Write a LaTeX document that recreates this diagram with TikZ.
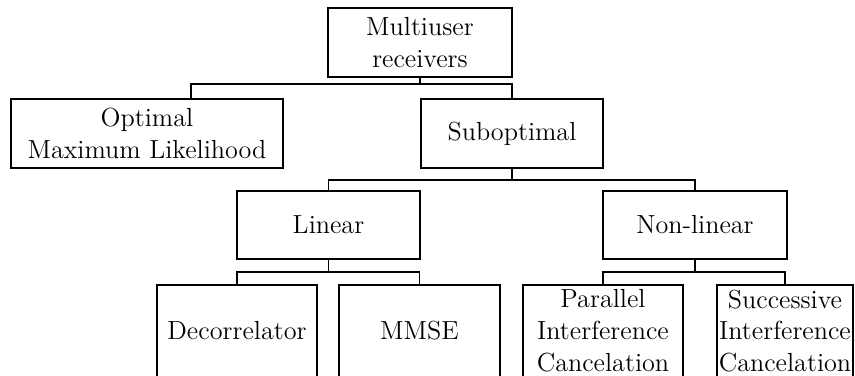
\documentclass[tikz,border=0pt]{standalone}
\newcommand\pxu{0.4587pt}
\begin{document}
\begin{tikzpicture}[x=\pxu,y=-\pxu,
  box/.style={draw, line width=0.85pt, rectangle, inner sep=0pt, align=center,
    font=\fontsize{12}{14.5}\selectfont},
  link/.style={line width=0.85pt}]
\useasboundingbox (0,0) rectangle (855,376);
% level 0
\node[box, minimum width=184*\pxu, minimum height=69*\pxu] (root) at (420,42.5) {Multiuser\\receivers};
% level 1
\node[box, minimum width=272*\pxu, minimum height=69*\pxu] (opt) at (147,133.5) {Optimal\\Maximum Likelihood};
\node[box, minimum width=182*\pxu, minimum height=69*\pxu] (sub) at (512,133.5) {Suboptimal};
% level 2
\node[box, minimum width=183*\pxu, minimum height=68*\pxu] (lin) at (328.5,225) {Linear};
\node[box, minimum width=184*\pxu, minimum height=68*\pxu] (non) at (695,225) {Non-linear};
% level 3 (lower edge runs along the bottom border)
\node[box, minimum width=160*\pxu, minimum height=91.6*\pxu] (dec) at (237,330.8) {Decorrelator};
\node[box, minimum width=161*\pxu, minimum height=91.6*\pxu] (mmse) at (419.5,330.8) {MMSE};
\node[box, minimum width=160*\pxu, minimum height=91.6*\pxu] (par) at (603,330.8) {Parallel\\Interference\\Cancelation};
\node[box, minimum width=136*\pxu, minimum height=91.6*\pxu] (suc) at (785,330.8) {Successive\\Interference\\Cancelation};
% connectors
\draw[link] (root.south) -- ++(0,6) -| ([xshift=44*\pxu]opt.north);
\draw[link] (root.south) -- ++(0,6) -| (sub.north);
\draw[link] (sub.south) -- ++(0,11) -| (lin.north);
\draw[link] (sub.south) -- ++(0,11) -| (non.north);
\draw[link] (lin.south) -- ++(0,12) -| (dec.north);
\draw[link] (lin.south) -- ++(0,12) -| (mmse.north);
\draw[link] (non.south) -- ++(0,12) -| (par.north);
\draw[link] (non.south) -- ++(0,12) -| (suc.north);
\end{tikzpicture}
\end{document}
